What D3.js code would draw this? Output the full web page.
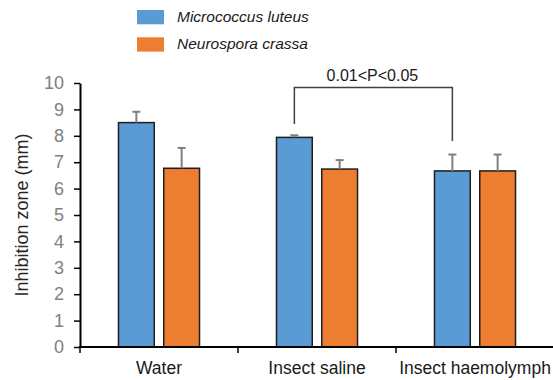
<!DOCTYPE html>
<html>
<head>
<meta charset="utf-8">
<script src="https://cdn.jsdelivr.net/npm/d3@7"></script>
<style>
  html, body { margin: 0; padding: 0; background: #fff; }
  svg { display: block; font-family: "Liberation Sans", Arial, sans-serif; }
</style>
</head>
<body>
<svg id="chart" width="553" height="380"></svg>
<script>
const categories = ["Water", "Insect saline", "Insect haemolymph"];
const seriesNames = ["Micrococcus luteus", "Neurospora crassa"];
const luteusValues = [8.5, 7.94, 6.67];
const luteusErrors = [0.41, 0.08, 0.62];
const crassaValues = [6.77, 6.74, 6.67];
const crassaErrors = [0.77, 0.34, 0.62];
const yTicks = [0, 1, 2, 3, 4, 5, 6, 7, 8, 9, 10];
const yLabel = "Inhibition zone (mm)";
const bracketLabel = "0.01<P<0.05";
// bracket between Micrococcus bars of "Insect saline" and "Insect haemolymph"
const bracketFrom = "Insect saline";
const bracketTo = "Insect haemolymph";
const bracketTop = 9.83;
const bracketFeet = [8.45, 7.8];

const colors = ["#5B9BD5", "#ED7D31"];

const svg = d3.select("#chart");
const x0 = d3.scaleBand().domain(categories).range([80, 554]).paddingInner(0).paddingOuter(0);
const x1 = d3.scaleBand().domain(seriesNames).range([0, x0.bandwidth()]).paddingInner(0.21).paddingOuter(0.85);
const y = d3.scaleLinear().domain([0, 10]).range([347, 83]);

const rows = categories.map((c, i) => ({
  cat: c,
  bars: [
    { s: seriesNames[0], v: luteusValues[i], e: luteusErrors[i] },
    { s: seriesNames[1], v: crassaValues[i], e: crassaErrors[i] }
  ]
}));

// Bars
const g = svg.append("g");
const groups = g.selectAll("g.cat").data(rows).join("g")
  .attr("transform", d => `translate(${x0(d.cat)},0)`);

groups.selectAll("rect").data(d => d.bars).join("rect")
  .attr("x", d => x1(d.s))
  .attr("y", d => y(d.v))
  .attr("width", x1.bandwidth())
  .attr("height", d => y(0) - y(d.v))
  .attr("fill", (d, i) => colors[i])
  .attr("stroke", "#1e1e1e")
  .attr("stroke-width", 1.5);

// Error bars (upward)
groups.selectAll("g.err").data(d => d.bars).join("g")
  .each(function(d) {
    const cx = x1(d.s) + x1.bandwidth() / 2;
    const sel = d3.select(this);
    sel.append("line")
      .attr("x1", cx).attr("x2", cx)
      .attr("y1", y(d.v)).attr("y2", y(d.v + d.e))
      .attr("stroke", "#7f7f7f").attr("stroke-width", 2);
    sel.append("line")
      .attr("x1", cx - 4).attr("x2", cx + 4)
      .attr("y1", y(d.v + d.e)).attr("y2", y(d.v + d.e))
      .attr("stroke", "#7f7f7f").attr("stroke-width", 2);
  });

// Y axis
const yAxis = d3.axisLeft(y).tickValues(yTicks).tickSize(6).tickSizeOuter(0).tickPadding(10).tickFormat(d3.format("d"));
const yg = svg.append("g").attr("transform", "translate(80,0)").call(yAxis);
yg.select(".domain").attr("stroke", "#000").attr("stroke-width", 2);
yg.selectAll(".tick line").attr("stroke", "#000").attr("stroke-width", 1.5);
yg.selectAll(".tick text").attr("fill", "#808080").style("font-size", "18px")
  .style("font-family", '"Liberation Sans", Arial, sans-serif');

// X axis
const edges = categories.map(c => x0(c)).concat([x0(categories[categories.length - 1]) + x0.bandwidth()]);
svg.append("line")
  .attr("x1", x0.range()[0] - 1).attr("x2", x0.range()[1])
  .attr("y1", y(0)).attr("y2", y(0))
  .attr("stroke", "#000").attr("stroke-width", 2);
svg.selectAll("line.xtick").data(edges).join("line")
  .attr("class", "xtick")
  .attr("x1", d => d).attr("x2", d => d)
  .attr("y1", y(0)).attr("y2", y(0) + 6)
  .attr("stroke", "#000").attr("stroke-width", 1.5);
svg.selectAll("text.xlab").data(categories).join("text")
  .attr("class", "xlab")
  .attr("x", d => x0(d) + x0.bandwidth() / 2)
  .attr("y", 373.5)
  .attr("text-anchor", "middle")
  .attr("fill", "#1a1a1a")
  .style("font-size", "17.5px")
  .text(d => d);

// Y label
svg.append("text")
  .attr("transform", `translate(28,${(y(0) + y(10)) / 2}) rotate(-90)`)
  .attr("text-anchor", "middle")
  .attr("fill", "#262626")
  .style("font-size", "18px")
  .text(yLabel);

// Significance bracket
const bx1 = x0(bracketFrom) + x1(seriesNames[0]) + x1.bandwidth() / 2;
const bx2 = x0(bracketTo) + x1(seriesNames[0]) + x1.bandwidth() / 2;
svg.append("path")
  .attr("d", `M${bx1},${y(bracketFeet[0])}V${y(bracketTop)}H${bx2}V${y(bracketFeet[1])}`)
  .attr("fill", "none")
  .attr("stroke", "#404040")
  .attr("stroke-width", 1.5);
svg.append("text")
  .attr("x", (bx1 + bx2) / 2 - 1)
  .attr("y", 80.5)
  .attr("text-anchor", "middle")
  .attr("fill", "#1a1a1a")
  .style("font-size", "16px")
  .text(bracketLabel);

// Legend
const lg = svg.append("g");
seriesNames.forEach((s, i) => {
  lg.append("rect")
    .attr("x", 137).attr("y", 10 + i * 27.3)
    .attr("width", 27).attr("height", 14.3)
    .attr("fill", colors[i]);
  lg.append("text")
    .attr("x", 177).attr("y", 22.3 + i * 26.5)
    .attr("fill", "#1a1a1a")
    .style("font-size", "15.5px")
    .style("font-style", "italic")
    .text(s);
});
</script>
</body>
</html>
